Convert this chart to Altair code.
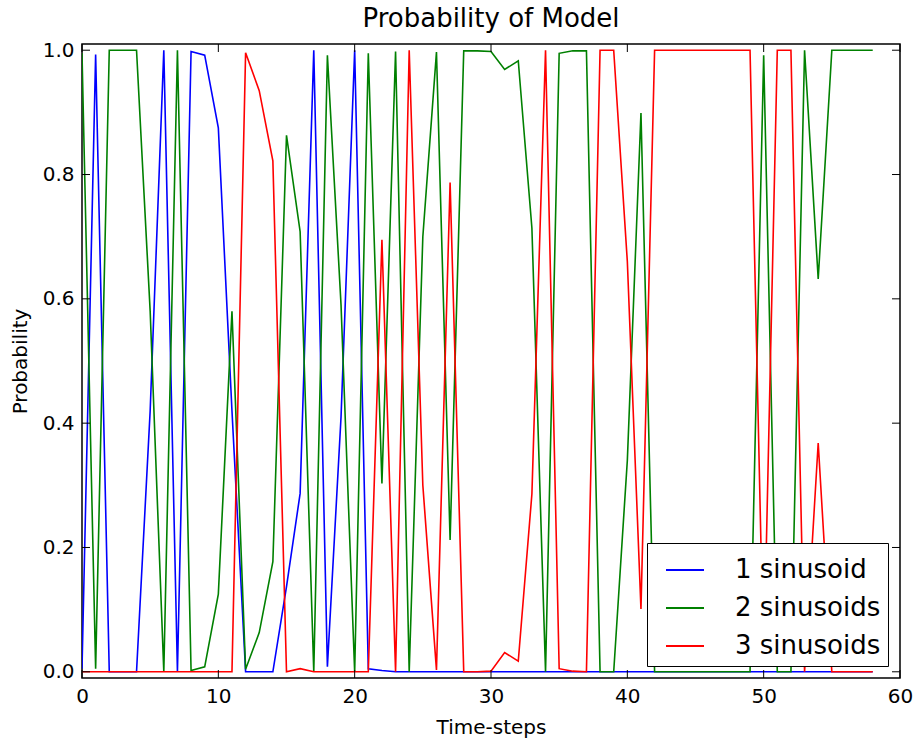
import altair as alt
import pandas as pd

steps = list(range(59))

one_sinusoid = [0.005, 0.993, 0.0, 0.0, 0.0, 0.42, 1.0, 0.0, 0.998, 0.992,
                0.875, 0.42, 0.0, 0.0, 0.0, 0.137, 0.287, 1.0, 0.008, 0.41,
                1.0, 0.005, 0.002, 0.0, 0.0, 0.0, 0.0, 0.0, 0.0, 0.0,
                0.0, 0.0, 0.0, 0.0, 0.0, 0.0, 0.0, 0.0, 0.0, 0.0,
                0.0, 0.0, 0.0, 0.0, 0.0, 0.0, 0.0, 0.0, 0.0, 0.0,
                0.0, 0.0, 0.0, 0.0, 0.0, 0.0, 0.0, 0.0, 0.0]

two_sinusoids = [0.995, 0.005, 1.0, 1.0, 1.0, 0.58, 0.0, 1.0, 0.002, 0.008,
                 0.125, 0.58, 0.004, 0.063, 0.177, 0.863, 0.708, 0.0, 0.992, 0.59,
                 0.0, 0.995, 0.303, 0.998, 0.0, 0.70, 0.997, 0.212, 0.999, 0.999,
                 0.998, 0.969, 0.983, 0.714, 0.0, 0.995, 0.999, 0.999, 0.0, 0.0,
                 0.34, 0.899, 0.0, 0.0, 0.0, 0.0, 0.0, 0.0, 0.0, 0.0,
                 0.992, 0.0, 0.0, 1.0, 0.632, 1.0, 1.0, 1.0, 1.0]

three_sinusoids = [0.0, 0.0, 0.0, 0.0, 0.0, 0.0, 0.0, 0.0, 0.0, 0.0,
                   0.0, 0.0, 0.996, 0.935, 0.822, 0.0, 0.005, 0.0, 0.0, 0.0,
                   0.0, 0.0, 0.695, 0.0, 1.0, 0.30, 0.003, 0.787, 0.0, 0.0,
                   0.001, 0.031, 0.017, 0.286, 1.0, 0.005, 0.001, 0.0, 1.0, 1.0,
                   0.66, 0.101, 1.0, 1.0, 1.0, 1.0, 1.0, 1.0, 1.0, 1.0,
                   0.008, 1.0, 1.0, 0.0, 0.368, 0.0, 0.0, 0.0, 0.0]

names = ["1 sinusoid", "2 sinusoids", "3 sinusoids"]
colors = ["#0000ff", "#008000", "#ff0000"]
x_ticks = [0, 10, 20, 30, 40, 50, 60]
y_ticks = [0.0, 0.2, 0.4, 0.6, 0.8, 1.0]

rows = []
for k, (name, vals) in enumerate(zip(names, [one_sinusoid, two_sinusoids, three_sinusoids])):
    for t, v in zip(steps, vals):
        rows.append({"t": t, "p": v, "model": name, "k": k})
df = pd.DataFrame(rows)

W, H = 818, 634
FONT = "DejaVu Sans"
xs = alt.Scale(domain=[0, 60], nice=False, zero=False)
ys = alt.Scale(domain=[-0.01, 1.01], nice=False, zero=False)

x_axis = alt.Axis(values=x_ticks, format="d", title="Time-steps", grid=False,
                  domain=False, ticks=False, labelPadding=8, titlePadding=11,
                  labelFlush=False, labelOverlap=False,
                  labelFont=FONT, titleFont=FONT, labelFontSize=20, titleFontSize=20,
                  labelColor="black", titleColor="black", titleFontWeight="normal")
y_axis = alt.Axis(values=y_ticks, format=".1f", title="Probability", grid=False,
                  domain=False, ticks=False, labelPadding=8, titlePadding=12,
                  labelFlush=False, labelOverlap=False,
                  labelFont=FONT, titleFont=FONT, labelFontSize=20, titleFontSize=20,
                  labelColor="black", titleColor="black", titleFontWeight="normal")

lines = alt.Chart(df).mark_line(strokeWidth=1.6, clip=True).encode(
    x=alt.X("t:Q", scale=xs, axis=x_axis),
    y=alt.Y("p:Q", scale=ys, axis=y_axis),
    color=alt.Color("model:N", scale=alt.Scale(domain=names, range=colors),
                    legend=alt.Legend(title=None, orient="none", legendX=565, legendY=499,
                                      fillColor="white", strokeColor="black",
                                      padding=7, cornerRadius=0,
                                      symbolType="stroke", symbolSize=1444,
                                      symbolStrokeWidth=2, symbolOffset=11,
                                      labelOffset=30, labelFontSize=26, labelFont=FONT,
                                      labelColor="black", labelLimit=0, rowPadding=5)),
    detail="k:O",
)

xt = pd.DataFrame({"v": x_ticks})
yt = pd.DataFrame({"v": y_ticks})
tick_len = 8

xb = alt.Chart(xt).mark_rule(color="black", strokeWidth=1).encode(
    x=alt.X("v:Q", scale=xs, axis=x_axis), y=alt.value(H), y2=alt.value(H - tick_len))
xtp = alt.Chart(xt).mark_rule(color="black", strokeWidth=1).encode(
    x=alt.X("v:Q", scale=xs, axis=x_axis), y=alt.value(0), y2=alt.value(tick_len))
yl = alt.Chart(yt).mark_rule(color="black", strokeWidth=1).encode(
    y=alt.Y("v:Q", scale=ys, axis=y_axis), x=alt.value(0), x2=alt.value(tick_len))
yr = alt.Chart(yt).mark_rule(color="black", strokeWidth=1).encode(
    y=alt.Y("v:Q", scale=ys, axis=y_axis), x=alt.value(W), x2=alt.value(W - tick_len))

chart = alt.layer(lines, xb, xtp, yl, yr).properties(
    width=W, height=H,
    background="white",
    title=alt.Title("Probability of Model", fontSize=26, font=FONT, fontWeight="normal",
                    color="black", anchor="middle", offset=8),
    autosize=alt.AutoSizeParams(type="none"),
    padding={"left": 82, "top": 44, "right": 19, "bottom": 60},
).configure_view(stroke="black", strokeWidth=1.5)

chart.save("out.html", embed_options={"renderer": "svg", "actions": False})
